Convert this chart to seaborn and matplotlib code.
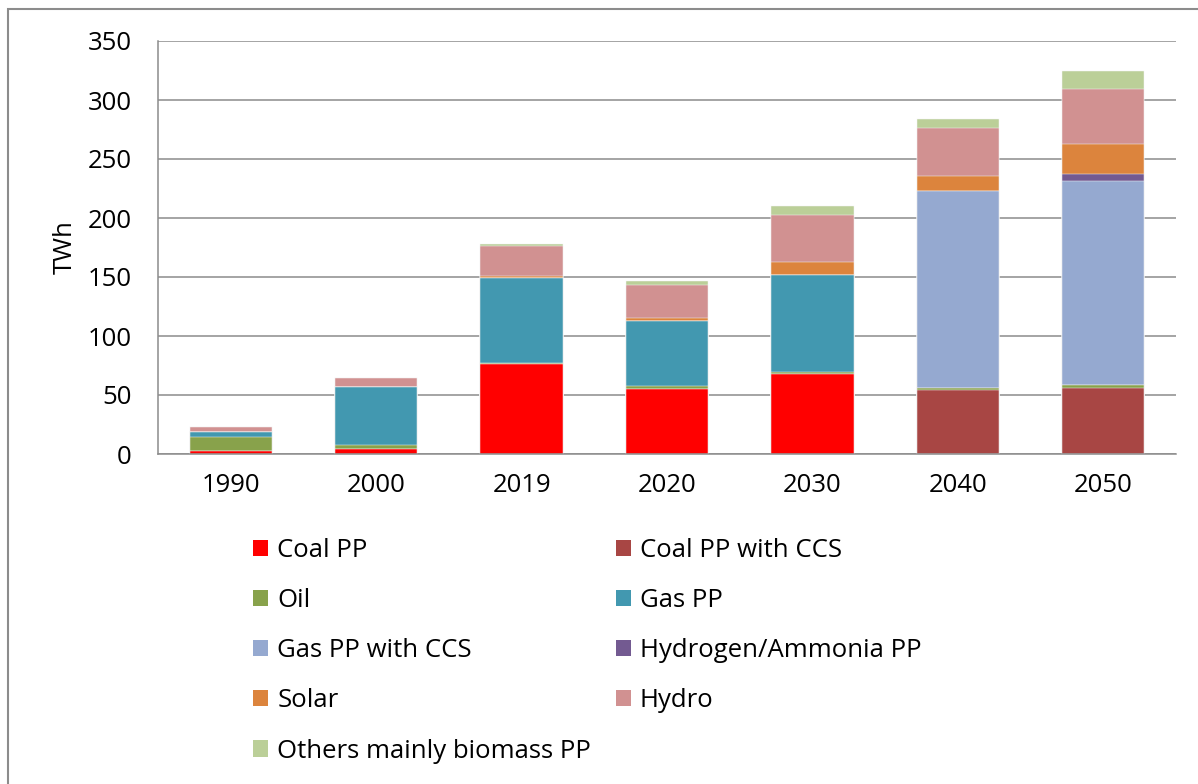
import numpy as np
import pandas as pd
import matplotlib
matplotlib.use("Agg")
import matplotlib.pyplot as plt
from matplotlib.patches import Patch, Rectangle
import seaborn as sns

# data (TWh)
years = ["1990", "2000", "2019", "2020", "2030", "2040", "2050"]
coal_pp = [2.5, 4, 76, 55.5, 67.5, 0, 0]
coal_ccs = [0, 0, 0, 0, 0, 54, 56]
oil = [11.5, 3.5, 1.5, 2.5, 2, 2, 2.5]
gas_pp = [4.5, 49, 72, 55, 82.5, 0, 0]
gas_ccs = [0, 0, 0, 0, 0, 166.5, 173]
hydrogen = [0, 0, 0, 0, 0, 0, 5.5]
solar = [0, 0, 1, 2.5, 10.5, 13.5, 26]
hydro = [4, 7.5, 26, 28, 40, 40.5, 46]
others = [0, 0, 1.5, 3.5, 7.5, 7.5, 15.5]

labels = ["Coal PP", "Coal PP with CCS", "Oil", "Gas PP", "Gas PP with CCS",
          "Hydrogen/Ammonia PP", "Solar", "Hydro", "Others mainly biomass PP"]
colors = ["#ff0000", "#a84644", "#88a24b", "#4298b0", "#95a9d0",
          "#735a91", "#dc843d", "#d19191", "#bbcf98"]

series = [coal_pp, coal_ccs, oil, gas_pp, gas_ccs, hydrogen, solar, hydro, others]
df = pd.DataFrame(dict(zip(labels, series)), index=years)
cum = df.cumsum(axis=1)

sns.set_style("white")
plt.rcParams["font.family"] = ["Open Sans", "DejaVu Sans"]
plt.rcParams["text.color"] = "black"
plt.rcParams["axes.labelcolor"] = "black"
FS = 18.5

fig = plt.figure(figsize=(11.98, 7.84), dpi=100)
ax = fig.add_axes([158 / 1198, 1 - 454 / 784, (1176 - 158) / 1198, (454 - 41) / 784])

# stacked look: draw cumulative totals from the top series down
for lab, col in zip(labels[::-1], colors[::-1]):
    sns.barplot(x=years, y=cum[lab].values, color=col, saturation=1,
                width=0.565, edgecolor="#f4f4f4", linewidth=0.35, ax=ax)

ax.set_ylim(0, 350)
ax.set_xlim(-0.5, 6.5)
ax.set_yticks(range(0, 351, 50))
ax.yaxis.grid(True, color="#8c8c8c", linewidth=1.1)
ax.set_axisbelow(True)
for s in ["top", "right"]:
    ax.spines[s].set_visible(False)
for s in ["left", "bottom"]:
    ax.spines[s].set_color("#8c8c8c")
    ax.spines[s].set_linewidth(1.1)
ax.tick_params(axis="y", length=5, width=1.1, color="#8c8c8c", pad=14,
               labelsize=FS, labelcolor="black")
ax.tick_params(axis="x", length=0, pad=14, labelsize=FS, labelcolor="black")
ax.set_ylabel("TWh", fontsize=FS, labelpad=7)
ax.set_xlabel("")

handles = [Patch(facecolor=c, edgecolor="none") for c in colors]
order = [0, 2, 4, 6, 8, 1, 3, 5, 7]
fig.legend([handles[i] for i in order], [labels[i] for i in order],
           ncol=2, loc="upper left", bbox_to_anchor=(240 / 1198, 1 - 525 / 784),
           frameon=False, fontsize=FS, handlelength=0.6, handleheight=0.6,
           handletextpad=0.35, labelspacing=0.98, columnspacing=0.95, borderpad=0)

# outer chart frame
fig.patches.append(Rectangle((8 / 1198, -0.05), 1.1, 1 - 9 / 784 + 0.05,
                             transform=fig.transFigure, fill=False,
                             edgecolor="#8c8c8c", linewidth=1.5))

fig.savefig("out.png", dpi=100)
